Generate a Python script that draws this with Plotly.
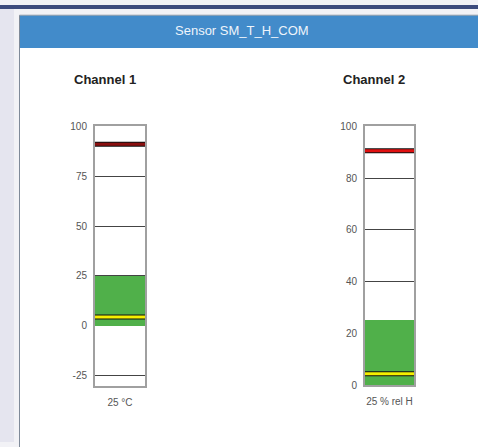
import plotly.graph_objects as go

W, H = 478, 447

# ---- data ----
panel_title = "Sensor SM_T_H_COM"
channels = ["Channel 1", "Channel 2"]
unit_labels = ["25 °C", "25 % rel H"]
band_low = [0, 0]
band_high = [25, 25]
current_values = [4.5, 4.5]
limit_values = [91, 90.5]
axis_min = [-30, 0]
axis_max = [100, 100]
ticks_ch1 = [-25, 0, 25, 50, 75, 100]
tick_labels_ch1 = ["-25", "0", "25", "50", "75", "100"]
ticks_ch2 = [0, 20, 40, 60, 80, 100]
tick_labels_ch2 = ["0", "20", "40", "60", "80", "100"]
tick_sets = [(ticks_ch1, tick_labels_ch1), (ticks_ch2, tick_labels_ch2)]

# ---- style / layout (pixels) ----
plot_boxes = [(95, 145, 124, 389.5), (365, 414, 124, 389)]  # x0, x1, ytop, ybottom
title_pos = [(72, 76.5), (341, 76.5)]
limit_colors = ["#8a0f0f", "#e01010"]


def px(x):
    return x / W


def py(y):
    return 1 - y / H


fig = go.Figure()
layout_axes = {}
annotations = []

for i in range(2):
    n = "" if i == 0 else str(i + 1)
    xa, ya = "x" + n, "y" + n
    x0, x1, yt, yb = plot_boxes[i]
    # green band
    fig.add_trace(go.Bar(
        x=[0.5], y=[band_high[i] - band_low[i]], base=[band_low[i]], width=[1],
        marker=dict(color="#50b04a", line=dict(width=0)),
        xaxis=xa, yaxis=ya, showlegend=False, hoverinfo="skip"))
    # limit line (outline + colour)
    for lw, col in [(5, "#111111"), (3, limit_colors[i])]:
        fig.add_trace(go.Scatter(
            x=[0, 1], y=[limit_values[i]] * 2, mode="lines",
            line=dict(color=col, width=lw), xaxis=xa, yaxis=ya,
            showlegend=False, hoverinfo="skip", cliponaxis=False))
    # current value line
    for lw, col in [(5, "#111111"), (3, "#f5f000")]:
        fig.add_trace(go.Scatter(
            x=[0, 1], y=[current_values[i]] * 2, mode="lines",
            line=dict(color=col, width=lw), xaxis=xa, yaxis=ya,
            showlegend=False, hoverinfo="skip", cliponaxis=False))

    tv, tt = tick_sets[i]
    layout_axes["xaxis" + n] = dict(
        domain=[px(x0), px(x1)], range=[0, 1], anchor=ya,
        tickvals=[0.5], ticktext=[unit_labels[i]], ticks="",
        tickfont=dict(size=10, color="#555555", family="Liberation Sans, Arial"),
        showgrid=False, zeroline=False, showline=True, mirror=True,
        linecolor="#a0a0a0", linewidth=2, ticklabelstandoff=6, fixedrange=True)
    layout_axes["yaxis" + n] = dict(
        domain=[py(yb), py(yt)], range=[axis_min[i], axis_max[i]], anchor=xa,
        tickvals=tv, ticktext=tt, ticks="",
        tickfont=dict(size=10, color="#555555", family="Liberation Sans, Arial"),
        showgrid=True, gridcolor="#444444", gridwidth=1,
        zeroline=True, zerolinecolor="#333333", zerolinewidth=1,
        showline=True, mirror=True, linecolor="#a0a0a0", linewidth=2,
        ticklabelstandoff=4, fixedrange=True)
    annotations.append(dict(
        x=px(title_pos[i][0]), y=py(title_pos[i][1]), xref="paper", yref="paper",
        xanchor="left", yanchor="middle", showarrow=False, text="<b>%s</b>" % channels[i],
        font=dict(size=13, color="#222222", family="Liberation Sans, Arial")))

annotations.append(dict(
    x=px(242), y=py(26), xref="paper", yref="paper", xanchor="center", yanchor="middle",
    showarrow=False, text=panel_title,
    font=dict(size=13, color="#eef4fb", family="Liberation Sans, Arial")))

shapes = [
    # left lavender strip
    dict(type="rect", xref="paper", yref="paper", x0=0, x1=px(14), y0=0, y1=1,
         fillcolor="#e5e5ef", line=dict(width=0), layer="below"),
    # top navy bar
    dict(type="rect", xref="paper", yref="paper", x0=0, x1=1, y0=py(4), y1=1,
         fillcolor="#3d4b7d", line=dict(width=0), layer="below"),
    # white panel
    dict(type="rect", xref="paper", yref="paper", x0=px(19.5), x1=px(490), y0=py(460), y1=py(10.5),
         fillcolor="#ffffff", line=dict(color="#7f8a99", width=1), layer="below"),
    # blue header
    dict(type="rect", xref="paper", yref="paper", x0=px(20), x1=px(490), y0=py(44), y1=py(11),
         fillcolor="#428bca", line=dict(width=0), layer="below"),
]

fig.update_layout(
    width=W, height=H, margin=dict(l=0, r=0, t=0, b=0),
    paper_bgcolor="#f2f2f6", plot_bgcolor="rgba(0,0,0,0)",
    shapes=shapes, annotations=annotations, bargap=0,
    showlegend=False, **layout_axes)

fig.write_html("out.html", config={"displayModeBar": False},
               post_script="document.body.style.margin='0';document.body.style.overflow='hidden';")
